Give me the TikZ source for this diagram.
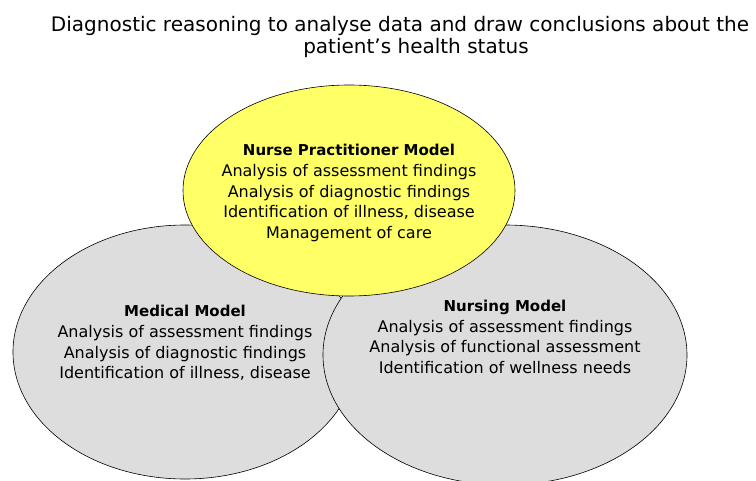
\documentclass[tikz,border=0pt]{standalone}
\usepackage{fontspec}
\setmainfont{DejaVu Sans}
\usetikzlibrary{shapes.geometric}

\definecolor{npyellow}{RGB}{255,255,102}
\definecolor{modelgrey}{RGB}{221,221,221}

\tikzset{
  model/.style={ellipse, draw=black, line width=0.6pt, inner sep=0pt},
  modeltext/.style={align=center, inner sep=0pt, font=\fontsize{16}{20.7}\selectfont}
}
\newcommand{\modelname}[1]{{\fontsize{15}{20.7}\selectfont\bfseries #1}}

\begin{document}
\begin{tikzpicture}[x=1pt,y=-1pt]
  \useasboundingbox (0,0) rectangle (756,480);

  % heading over the three models
  \node[align=center, inner sep=0pt, font=\fontsize{20}{22}\selectfont] (title) at (400,37)
    {Diagnostic reasoning to analyse data and draw conclusions about the\\
     \hspace*{32pt}patient's health status};

  % the two grey models first, the nurse practitioner one on top
  \node[model, fill=modelgrey, minimum width=344pt, minimum height=254pt] (medical) at (185,352) {};
  \node[model, fill=modelgrey, minimum width=364pt, minimum height=260pt] (nursing) at (505,355) {};
  \node[model, fill=npyellow, minimum width=332pt, minimum height=211pt] (np) at (349,190.5) {};

  \node[modeltext] (nptext) at (349,193)
    {\modelname{Nurse Practitioner Model}\\
     Analysis of assessment findings\\
     Analysis of diagnostic findings\\
     Identification of illness, disease\\
     Management of care};
  \node[modeltext] (medtext) at (185,343)
    {\modelname{Medical Model}\\
     Analysis of assessment findings\\
     Analysis of diagnostic findings\\
     Identification of illness, disease};
  \node[modeltext] (nurstext) at (505,337)
    {\modelname{Nursing Model}\\
     Analysis of assessment findings\\
     Analysis of functional assessment\\
     Identification of wellness needs};
\end{tikzpicture}
\end{document}
